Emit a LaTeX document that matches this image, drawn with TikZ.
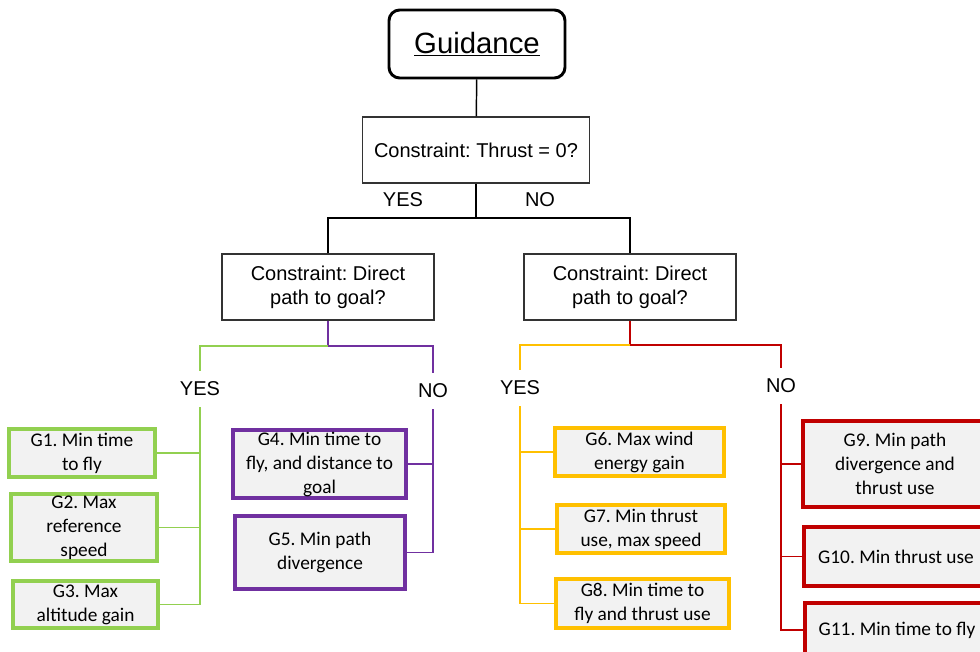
\documentclass[tikz,border=0pt]{standalone}
\usepackage{fontspec}
\setmainfont{Liberation Sans}
\newfontfamily\goalfont{Carlito}
\frenchspacing

\definecolor{boxgray}{HTML}{F2F2F2}
\definecolor{lgreen}{HTML}{92D050}
\definecolor{lpurple}{HTML}{7030A0}
\definecolor{lyellow}{HTML}{FFC000}
\definecolor{lred}{HTML}{C00000}

\begin{document}
\begin{tikzpicture}[
  x = 0.75pt, y = -0.75pt,
  title/.style = {draw, rounded corners=8pt, line width=2.2pt, font=\fontsize{22}{26}\selectfont, minimum width=132pt, minimum height=51pt},
  decision/.style = {draw=black!80, line width=0.8pt, fill=white, align=center, inner sep=0pt, font=\fontsize{15}{18}\selectfont, minimum height=49.5pt},
  answer/.style = {inner sep=0pt, minimum height=27pt, font=\fontsize{15}{18}\selectfont},
  goal/.style = {draw=#1, line width=2.3pt, fill=boxgray, align=center, inner sep=0pt, font=\goalfont\fontsize{14.5}{18}\selectfont},
  branch/.style = {draw=#1, line width=1.1pt},
  ]
  \useasboundingbox (0,0) rectangle (980,652);
  \clip (0,0) rectangle (980,652);

  \node[title] (guide) at (477,44) {\underline{Guidance}};
  \node[decision, minimum width=170.25pt] (thrust) at (476,150) {Constraint: Thrust = 0?};
  \node[answer] (yes0) at (403,200) {YES};
  \node[answer] (no0) at (540,200) {NO};
  \node[decision, minimum width=159pt] (pathL) at (328,287) {Constraint: Direct\\path to goal?};
  \node[decision, minimum width=159pt] (pathR) at (630,287) {Constraint: Direct\\path to goal?};

  \coordinate (split0) at (476,218);
  \coordinate (splitL) at (328,346);
  \coordinate (splitR) at (630,345);

  \draw[line width=1.1pt] (guide) -- (thrust);
  \draw[line width=1.1pt] (thrust) -- (split0);
  \draw[line width=1.1pt] (pathL.north) |- (split0) -| (pathR.north);

  % left branch
  \node[answer] (yesL) at (200,389) {YES};
  \node[answer] (noL) at (433,391) {NO};
  \draw[branch=lpurple] (pathL.south) -- (splitL) -| (noL.north);
  \draw[branch=lgreen] (splitL) -| (yesL.north);

  \node[goal=lgreen, minimum width=109.5pt, minimum height=36pt] (g1) at (82,453) {G1. Min time\\to fly};
  \node[goal=lgreen, minimum width=109.5pt, minimum height=50.25pt] (g2) at (84,527.5) {G2. Max\\reference\\speed};
  \node[goal=lgreen, minimum width=108.75pt, minimum height=35.25pt] (g3) at (85.5,604.5) {G3. Max\\altitude gain};
  \node[goal=lpurple, minimum width=129.75pt, minimum height=51pt] (g4) at (319.5,464) {G4. Min time to\\fly, and distance to\\goal};
  \node[goal=lpurple, minimum width=127.5pt, minimum height=54.75pt] (g5) at (320,552.5) {G5. Min path\\divergence};

  \foreach \g in {g1,g2,g3}
    \draw[branch=lgreen] (yesL.south) |- (\g.east);
  \foreach \g in {g4,g5}
    \draw[branch=lpurple] (noL.south) |- (\g.east);

  % right branch
  \node[answer] (yesR) at (520,388) {YES};
  \node[answer] (noR) at (781,386) {NO};
  \draw[branch=lred] (pathR.south) -- (splitR) -| (noR.north);
  \draw[branch=lyellow] (splitR) -| (yesR.north);

  \node[goal=lyellow, minimum width=126.75pt, minimum height=36pt] (g6) at (639.5,452) {G6. Max wind\\energy gain};
  \node[goal=lyellow, minimum width=126pt, minimum height=36pt] (g7) at (641,529) {G7. Min thrust\\use, max speed};
  \node[goal=lyellow, minimum width=129.75pt, minimum height=36.75pt] (g8) at (642.5,603.5) {G8. Min time to\\fly and thrust use};
  \node[goal=lred, minimum width=138pt, minimum height=64.5pt] (g9) at (895,464) {G9. Min path\\divergence and\\thrust use};
  \node[goal=lred, minimum width=138pt, minimum height=44.25pt] (g10) at (896,556.5) {G10. Min thrust use};
  \node[goal=lred, minimum width=138pt, minimum height=40.5pt] (g11) at (897,630) {G11. Min time to fly};

  \foreach \g in {g6,g7,g8}
    \draw[branch=lyellow] (yesR.south) |- (\g.west);
  \foreach \g in {g9,g10,g11}
    \draw[branch=lred] (noR.south) |- (\g.west);
\end{tikzpicture}
\end{document}
